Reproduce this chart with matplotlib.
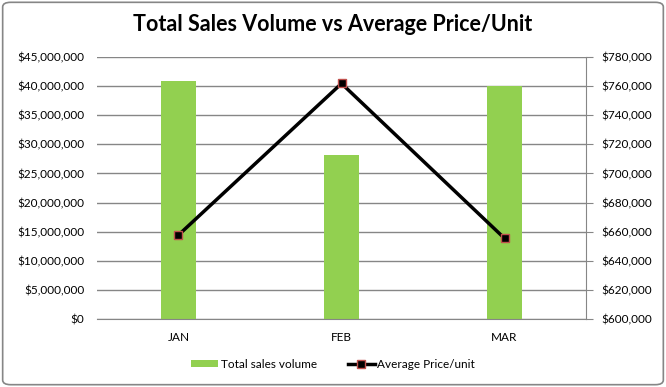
import matplotlib.pyplot as plt
import numpy as np
from matplotlib.patches import FancyBboxPatch
from matplotlib.ticker import FuncFormatter, MultipleLocator

months = ['JAN', 'FEB', 'MAR']
sales_volume = [40900000, 28200000, 40000000]
avg_price = [657700, 761800, 655400]

plt.rcParams['font.family'] = ['Lato', 'DejaVu Sans']

fig = plt.figure(figsize=(6.66, 3.87), dpi=100)
ax = fig.add_axes([0.1456, 0.1757, 0.7344, 0.677])
ax2 = ax.twinx()

x = np.arange(len(months))
ax.bar(x, sales_volume, width=0.21, color='#92D050', zorder=2, label='Total sales volume')
ax.set_xlim(-0.5, 2.5)
ax.set_ylim(0, 45000000)
ax.yaxis.set_major_locator(MultipleLocator(5000000))
ax.yaxis.set_major_formatter(FuncFormatter(lambda v, p: '${:,.0f}'.format(v)))
ax.grid(axis='y', color='#868686', linewidth=1, zorder=0)
ax.set_axisbelow(True)
ax.set_xticks(x)
ax.set_xticklabels(months)
ax.tick_params(axis='y', length=0, pad=9, labelsize=8.5)
ax.tick_params(axis='x', length=0, pad=9, labelsize=8.5)
for s in ['top', 'left', 'right']:
    ax.spines[s].set_visible(False)
ax.spines['bottom'].set_color('#868686')

ax2.plot(x, avg_price, color='black', linewidth=2.5, marker='s', markersize=6,
         markerfacecolor='black', markeredgecolor='#C0504D', markeredgewidth=1,
         label='Average Price/unit', zorder=3)
ax2.set_ylim(600000, 780000)
ax2.yaxis.set_major_locator(MultipleLocator(20000))
ax2.yaxis.set_major_formatter(FuncFormatter(lambda v, p: '${:,.0f}'.format(v)))
ax2.tick_params(axis='y', length=5, color='#868686', pad=6, labelsize=8.5)
for s in ['top', 'left', 'bottom']:
    ax2.spines[s].set_visible(False)
ax2.spines['right'].set_color('#868686')

fig.suptitle('Total Sales Volume vs Average Price/Unit', y=0.965, fontsize=15.5, fontweight='bold')

h1, l1 = ax.get_legend_handles_labels()
h2, l2 = ax2.get_legend_handles_labels()
fig.legend(h1 + h2, l1 + l2, loc='center', bbox_to_anchor=(0.5, 0.058), ncol=2,
           frameon=False, fontsize=8.5, handlelength=2.3, handleheight=0.55,
           handletextpad=0.2, columnspacing=2.6)

border = FancyBboxPatch((0.004, 0.006), 0.992, 0.988, boxstyle='round,pad=0,rounding_size=0.012',
                        transform=fig.transFigure, facecolor='none', edgecolor='#868686',
                        linewidth=1.2)
fig.patches.append(border)

fig.savefig('out.png', dpi=100)
